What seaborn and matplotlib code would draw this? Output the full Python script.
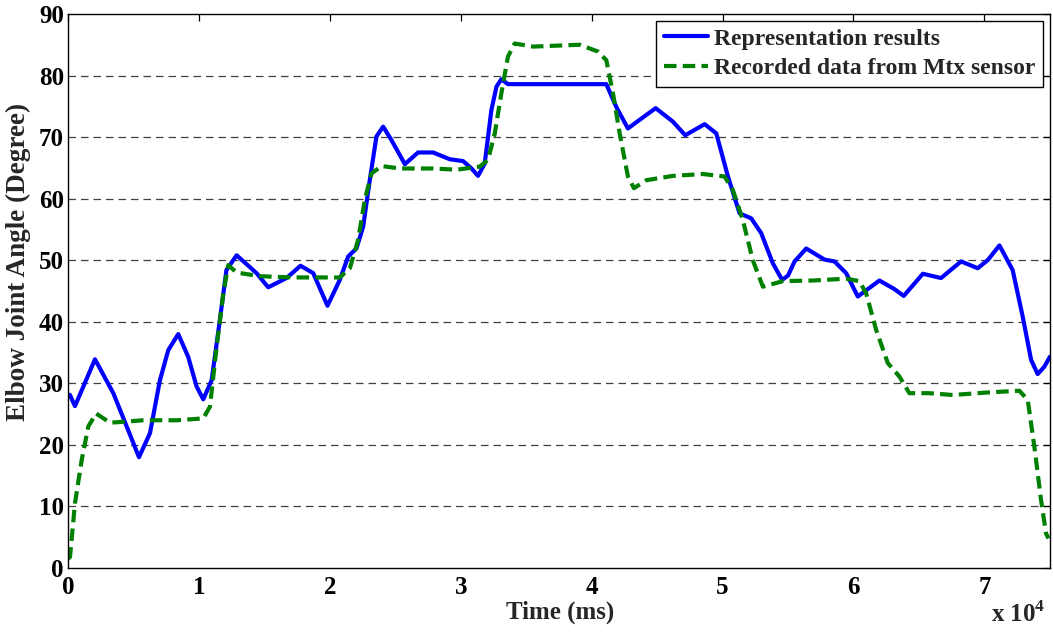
import numpy as np
import pandas as pd
import seaborn as sns
import matplotlib.pyplot as plt

# 数据（时间单位 ms，角度单位 度）
t_rep = [0, 150, 530, 2060, 3460, 4480, 5420, 6260, 7020, 7660, 8420, 9180, 9820,
         10330, 10970, 11600, 12100, 12880, 14400, 15290, 16690, 17760, 18730,
         19820, 20760, 21400, 22030, 22540, 23050, 23560, 24070, 24710, 25730,
         26740, 27890, 29160, 30180, 30820, 31320, 31830, 32340, 32730, 33100,
         33600, 41120, 41880, 42770, 43660, 44890, 46210, 47150, 48630, 49520,
         50410, 51300, 52190, 52950, 53840, 54550, 55000, 55500, 56390, 57790,
         58550, 59440, 60330, 61980, 63130, 63840, 65300, 66690, 68220, 69490,
         70250, 71150, 72160, 72930, 73570, 74070, 74580, 75000]
angle_rep = [28.2, 28.1, 26.3, 33.9, 28.4, 23.0, 18.0, 21.9, 30.5, 35.4, 38.0, 34.3, 29.5,
             27.4, 30.5, 40.3, 48.4, 50.8, 47.9, 45.6, 47.1, 49.1, 47.9,
             42.6, 46.8, 50.6, 51.9, 55.4, 63.0, 70.1, 71.7, 69.5, 65.6,
             67.5, 67.5, 66.4, 66.1, 64.9, 63.7, 65.7, 74.4, 78.2, 79.4,
             78.6, 78.6, 74.9, 71.4, 72.8, 74.7, 72.5, 70.3, 72.1, 70.6,
             63.6, 57.6, 56.8, 54.4, 49.5, 46.8, 47.5, 49.8, 51.9, 50.1,
             49.8, 47.9, 44.1, 46.7, 45.3, 44.2, 47.8, 47.1, 49.8, 48.7,
             50.0, 52.4, 48.4, 40.8, 33.8, 31.5, 32.7, 34.3]

t_mtx = [0, 150, 530, 1040, 1550, 2140, 3210, 5750, 8300, 10330, 10840, 11350,
         11860, 12240, 12880, 14660, 17200, 20760, 21530, 22160, 22670, 23180,
         23950, 25340, 27890, 29670, 31450, 32080, 32600, 33100, 33610, 34120,
         35520, 39080, 40480, 41120, 41630, 42140, 42770, 43230, 44180, 46210,
         48500, 50150, 50790, 51550, 52310, 53080, 54610, 56900, 59440, 60460,
         60970, 61730, 62620, 63510, 64270, 65800, 67580, 70130, 72670, 73310,
         73820, 74330, 74710, 74900]
angle_mtx = [1.5, 1.8, 10.5, 17.5, 23.0, 25.1, 23.6, 24.0, 24.0, 24.3, 26.2, 35.9,
             44.6, 49.2, 48.0, 47.4, 47.2, 47.2, 48.7, 53.3, 59.8, 64.1,
             65.3, 64.9, 64.9, 64.7, 65.2, 66.3, 70.6, 77.1, 83.1, 85.2,
             84.7, 85.0, 83.9, 82.5, 77.1, 70.6, 63.6, 61.7, 63.0, 63.7,
             64.0, 63.6, 61.4, 56.5, 50.0, 45.7, 46.6, 46.7, 47.0, 46.6,
             44.6, 38.7, 33.3, 31.1, 28.4, 28.4, 28.1, 28.5, 28.8, 27.3,
             19.7, 11.0, 5.6, 4.8]

sns.set_style("white")
plt.rcParams['font.family'] = ['Liberation Serif', 'DejaVu Serif']
plt.rcParams['font.weight'] = 'bold'
plt.rcParams['axes.labelweight'] = 'bold'
plt.rcParams['mathtext.fontset'] = 'custom'
plt.rcParams['mathtext.rm'] = 'Liberation Serif:bold'

fig = plt.figure(figsize=(10.53, 6.35), dpi=100)
ax = fig.add_axes([0.0646, 0.1055, 0.9324, 0.8725])

sns.lineplot(x=t_rep, y=angle_rep, color='#0000FF', linewidth=3.0,
             label='Representation results', ax=ax)
sns.lineplot(x=t_mtx, y=angle_mtx, color='#008000', linewidth=3.0,
             label='Recorded data from Mtx sensor', ax=ax)
ax.lines[1].set_dashes([3.0, 1.5])

ax.set_xlim(0, 75000)
ax.set_ylim(0, 90)
ax.set_xticks(np.arange(0, 75000, 10000))
ax.set_xticklabels([str(i) for i in range(8)])
ax.set_yticks(np.arange(0, 91, 10))

# 水平虚线网格
for yv in range(10, 90, 10):
    ax.axhline(yv, color='0.25', linestyle=(0, (6, 4)), linewidth=0.9, zorder=0)

ax.tick_params(direction='in', length=5, width=0.9, top=True, right=True,
               labelsize=18, colors='black')
ax.tick_params(axis='x', pad=6)
ax.tick_params(axis='y', pad=3)
for s in ax.spines.values():
    s.set_visible(True)
    s.set_color('black')
    s.set_linewidth(1.0)

ax.set_xlabel('Time (ms)', fontsize=18, fontweight='bold')
ax.xaxis.set_label_coords(0.501, -0.058)
ax.set_ylabel('Elbow Joint Angle (Degree)', fontsize=19.5, fontweight='bold')
ax.yaxis.set_label_coords(-0.038, 0.552)
fig.text(0.993, 0.012, r'x 10$^{4}$', fontsize=18, fontweight='bold',
         ha='right', va='bottom')

leg = ax.legend(loc='upper right', fancybox=False, edgecolor='black',
                framealpha=1, borderaxespad=0.3,
                prop={'family': 'Liberation Serif', 'weight': 'bold', 'size': 17},
                handletextpad=0.25, borderpad=0.3, labelspacing=0.35,
                handlelength=1.9)
leg.get_frame().set_linewidth(1.0)

fig.savefig('out.png', dpi=100)
